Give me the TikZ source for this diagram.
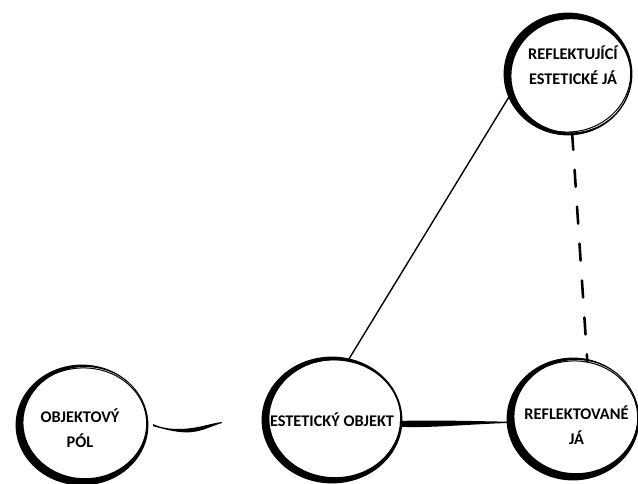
\documentclass[tikz,border=0pt]{standalone}
\usepackage{fontspec}
\setmainfont{Carlito}[BoldFont={Carlito Bold}]
\usetikzlibrary{shapes.geometric,calc}

% centred label of zero size, so the ellipse keeps its own dimensions;
% #1 shifts it sideways, #2 up or down
\newcommand\lbl[3]{\makebox[0pt]{\hspace*{#1}\hspace*{#1}\smash{\raisebox{#2}{\begin{tabular}{@{}c@{}}#3\end{tabular}}}}}

% brush-like ring around a node: a crescent of varying width plus a thin second stroke
\newcommand\brushring[5]{%
  \fill[even odd rule] (#1.center) ellipse [x radius=#2+2.4, y radius=#3+2.4]
        ($(#1.center)+(#4,#5)$) ellipse [x radius=#2-2.4, y radius=#3-2.4];
  \draw[line width=1pt, rotate around={5:(#1.center)}] (#1.center) ellipse [x radius=#2+.8, y radius=#3-1];
}

\begin{document}
\begin{tikzpicture}[x=1pt,y=-1pt,
  pole/.style={ellipse, draw=none, inner sep=0pt, outer sep=0pt,
    font=\bfseries\fontsize{16.3}{24.5}\selectfont},
  thinlink/.style={line width=1.4pt},
  dashlink/.style={line width=2.6pt, line cap=round, dash pattern=on 17pt off 20pt}]
\useasboundingbox (0,0) rectangle (638,484);

\node[pole, minimum width=128pt, minimum height=116pt] (op) at (82,425) {\lbl{-2pt}{-9.4pt}{OBJEKTOVÝ\\PÓL}};
\node[pole, minimum width=136pt, minimum height=122pt] (eo) at (332,420) {\lbl{0pt}{-6.2pt}{ESTETICKÝ OBJEKT}};
\node[pole, minimum width=128pt, minimum height=118pt] (rv) at (573,419) {\lbl{3.5pt}{-12.4pt}{REFLEKTOVANÉ\\JÁ}};
\node[pole, minimum width=124pt, minimum height=118pt] (rt) at (568,74) {\lbl{5pt}{2.6pt}{REFLEKTUJÍCÍ\\ESTETICKÉ JÁ}};

\brushring{op}{64}{58}{3}{-2.4}
\brushring{eo}{68}{61}{3}{-1.4}
\brushring{rv}{64}{59}{3}{-2.4}
\brushring{rt}{62}{59}{3}{1.8}

\coordinate (opend) at (222,422);

% connectors
\draw[thinlink] (rt.200) -- (eo.75);
\draw[dashlink] (rt.274) -- (rv.76);
\fill (eo.357) ++(0,-2.6) .. controls +(30,-1) and +(-40,-0.8) .. ($(rv.183)+(0,-0.6)$)
   -- ($(rv.183)+(0,0.6)$) .. controls +(-40,1.2) and +(30,1.5) .. ($(eo.357)+(0,3.2)$) -- cycle;
\fill ($(op.east)+(7,-1)$) .. controls +(12,6) and +(-15,3) .. (198,427)
   .. controls +(10,-2) and +(-8,1) .. (opend)
   -- ($(opend)+(0,1)$) .. controls +(-10,3) and +(10,-2) .. (196,431.5)
   .. controls +(-15,3) and +(12,3) .. ($(op.east)+(7,1.2)$) -- cycle;
\end{tikzpicture}
\end{document}
